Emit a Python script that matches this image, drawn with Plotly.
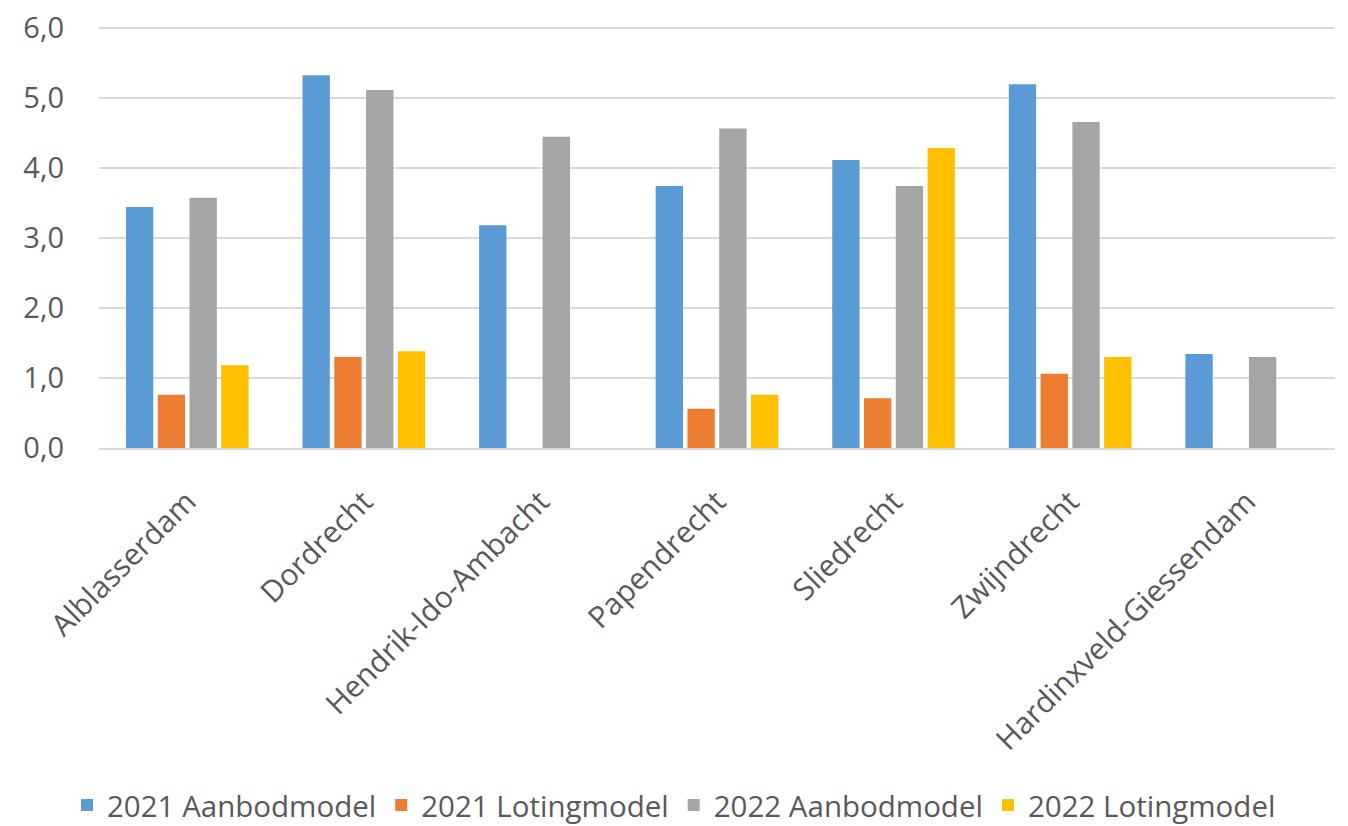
import plotly.graph_objects as go

# Gemeenten in de regio
gemeenten = [
    "Alblasserdam",
    "Dordrecht",
    "Hendrik-Ido-Ambacht",
    "Papendrecht",
    "Sliedrecht",
    "Zwijndrecht",
    "Hardinxveld-Giessendam",
]

# Waarden per model en jaar (None = geen gegevens)
aanbod_2021 = [3.44, 5.32, 3.18, 3.74, 4.11, 5.19, 1.34]
loting_2021 = [0.76, 1.30, None, 0.56, 0.71, 1.06, None]
aanbod_2022 = [3.57, 5.11, 4.44, 4.56, 3.74, 4.65, 1.30]
loting_2022 = [1.18, 1.38, None, 0.76, 4.28, 1.30, None]

series_names = [
    "2021 Aanbodmodel",
    "2021 Lotingmodel",
    "2022 Aanbodmodel",
    "2022 Lotingmodel",
]
series_values = [aanbod_2021, loting_2021, aanbod_2022, loting_2022]
series_colors = ["#5B9BD5", "#ED7D31", "#A5A5A5", "#FFC000"]

y_ticks = [0, 1, 2, 3, 4, 5, 6]

FONT = "Open Sans, Segoe UI, sans-serif"
TEXT_COLOR = "#595959"
GRID_COLOR = "#D9D9D9"

fig = go.Figure()
for name, vals, color in zip(series_names, series_values, series_colors):
    fig.add_trace(
        go.Bar(
            x=gemeenten,
            y=vals,
            name=name,
            marker=dict(color=color, line=dict(width=0)),
        )
    )

fig.update_layout(
    width=1348,
    height=826,
    barmode="group",
    bargap=0.28,
    bargroupgap=0.14,
    separators=", ",
    plot_bgcolor="white",
    paper_bgcolor="white",
    margin=dict(l=99, r=13, t=24, b=378, autoexpand=False),
    font=dict(family=FONT, size=29, color=TEXT_COLOR),
    legend=dict(
        orientation="h",
        x=0.5,
        xanchor="center",
        xref="container",
        y=0.025,
        yanchor="middle",
        yref="container",
        font=dict(family=FONT, size=29.5, color=TEXT_COLOR),
        itemclick=False,
        traceorder="normal",
    ),
    showlegend=True,
)

# a little headroom above 6 so the top gridline is drawn
fig.update_yaxes(
    range=[0, 6.05],
    tickvals=y_ticks,
    tickformat=".1f",
    showgrid=True,
    gridcolor=GRID_COLOR,
    gridwidth=2,
    zeroline=False,
    showline=False,
    ticks="",
    automargin=False,
    ticklabelstandoff=34,
    tickfont=dict(family=FONT, size=29, color=TEXT_COLOR),
)

fig.update_xaxes(
    tickangle=-45,
    showline=True,
    linecolor=GRID_COLOR,
    linewidth=2,
    showgrid=False,
    ticks="",
    automargin=False,
    ticklabelstandoff=22,
    tickfont=dict(family=FONT, size=30, color=TEXT_COLOR),
)

fig.write_html("out.html")
